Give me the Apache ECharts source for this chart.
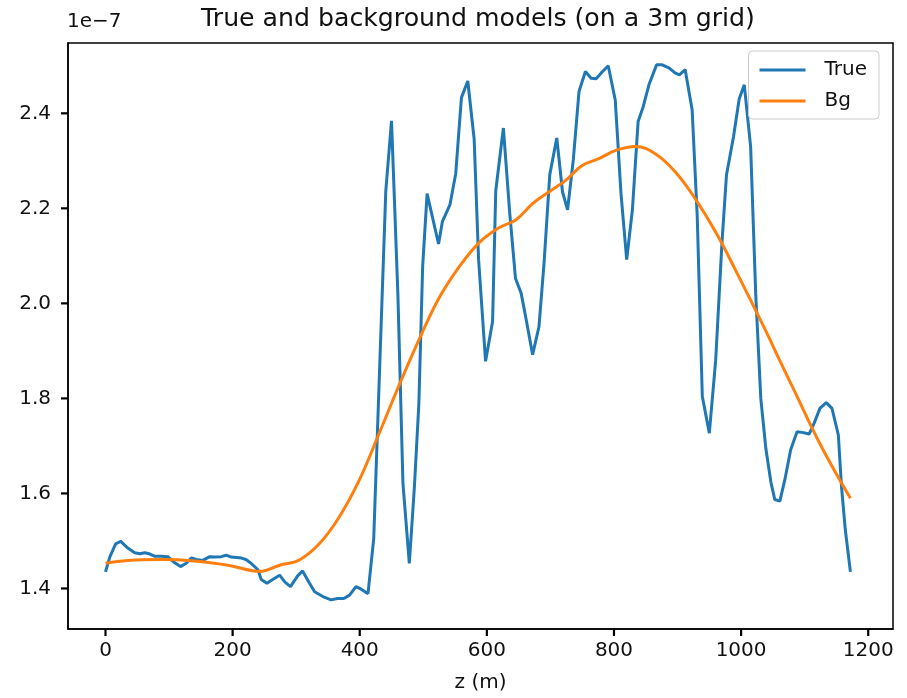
<!DOCTYPE html>
<html><head><meta charset="utf-8">
<script src="https://cdn.jsdelivr.net/npm/echarts@6/dist/echarts.min.js"></script>
<style>html,body{margin:0;padding:0;background:#fff}#c{width:907px;height:698px}</style>
</head><body><div id="c"></div>
<script>
const titleText = 'True and background models (on a 3m grid)';
const xLabel = 'z (m)';
const yScaleText = '1e\u22127';
const seriesNames = ['True', 'Bg'];
const xTicks = [0, 200, 400, 600, 800, 1000, 1200];
const yTicks = [1.4, 1.6, 1.8, 2.0, 2.2, 2.4];

// True model (values in units of 1e-7)
const zTrue = [0,7,16,24,35,46,54,62,69,77,88,98,109,118,127,135,143,153,164,172,182,190,198,214,221,229,240,245,254,263,274,282,291,302,310,321,329,342,355,365,375,384,394,403,413,422,441,450,460,468,478,486,493,499,506,524,530,542,551,560,570,580,587,598,609,614,626,636,645,654,662,672,682,690,699,710,719,727,736,745,755,764,772,782,791,802,811,820,829,838,846,855,867,876,887,896,903,912,923,931,939,950,960,970,977,988,997,1005,1015,1023,1031,1039,1047,1053,1061,1069,1078,1088,1098,1107,1115,1124,1134,1143,1153,1158,1164,1172];
const vTrue = [1.435,1.467,1.494,1.499,1.485,1.475,1.473,1.475,1.473,1.468,1.468,1.467,1.454,1.446,1.453,1.464,1.461,1.459,1.467,1.466,1.467,1.470,1.466,1.464,1.461,1.453,1.439,1.419,1.411,1.419,1.428,1.414,1.404,1.426,1.437,1.411,1.393,1.383,1.376,1.379,1.379,1.386,1.404,1.398,1.389,1.505,2.237,2.384,2.020,1.621,1.453,1.614,1.788,2.078,2.231,2.125,2.172,2.208,2.273,2.433,2.468,2.346,2.092,1.878,1.962,2.237,2.369,2.190,2.053,2.021,1.965,1.892,1.951,2.085,2.271,2.348,2.235,2.197,2.302,2.446,2.488,2.474,2.473,2.488,2.500,2.428,2.232,2.092,2.197,2.383,2.414,2.460,2.502,2.502,2.495,2.485,2.481,2.492,2.407,2.183,1.804,1.727,1.880,2.130,2.270,2.350,2.430,2.460,2.330,2.020,1.800,1.694,1.623,1.587,1.584,1.630,1.692,1.730,1.728,1.725,1.748,1.779,1.791,1.779,1.723,1.614,1.523,1.435];

// Background model (values in units of 1e-7)
const zBg = [0,35,88,140,193,243,274,305,337,368,400,431,462,494,525,557,588,619,646,672,698,724,750,777,803,834,866,897,929,960,992,1023,1044,1060,1086,1109,1125,1149,1172];
const vBg = [1.453,1.459,1.461,1.458,1.449,1.436,1.449,1.460,1.495,1.551,1.630,1.728,1.828,1.926,2.012,2.078,2.128,2.159,2.176,2.210,2.235,2.259,2.290,2.305,2.322,2.330,2.314,2.276,2.218,2.150,2.068,1.985,1.928,1.882,1.810,1.745,1.702,1.643,1.590];

const FONT = 'DejaVu Sans';
const X_MIN = -59, X_MAX = 1239, Y_MIN = 1.3147, Y_MAX = 2.548;
const chart = echarts.init(document.getElementById('c'), null, {renderer: 'canvas'});
const gridL = 68, gridR = 893, gridT = 43, gridB = 629;
const axisLineStyle = {color: '#000', width: 1.5};
const TICK_LEN = 7;

chart.setOption({
  animation: false,
  backgroundColor: '#fff',
  textStyle: {fontFamily: FONT},
  grid: {left: gridL, right: 907 - gridR, top: gridT, bottom: 698 - gridB, show: true,
         borderColor: '#000', borderWidth: 1.5, backgroundColor: 'transparent'},
  xAxis: {
    type: 'value', min: X_MIN, max: X_MAX, position: 'bottom',
    name: xLabel, nameLocation: 'middle', nameGap: 44,
    nameTextStyle: {fontFamily: FONT, fontSize: 20, color: '#111'},
    axisLine: {show: true, onZero: false, lineStyle: axisLineStyle},
    splitLine: {show: false},
    axisTick: {show: false},
    axisLabel: {show: true, fontFamily: FONT, fontSize: 20, color: '#111', margin: 12, customValues: xTicks,
                formatter: v => String(v)}
  },
  yAxis: {
    type: 'value', min: Y_MIN, max: Y_MAX, position: 'left',
    axisLine: {show: true, onZero: false, lineStyle: axisLineStyle},
    splitLine: {show: false},
    axisTick: {show: false},
    axisLabel: {show: true, fontFamily: FONT, fontSize: 20, color: '#111', margin: 17, customValues: yTicks,
                formatter: v => v.toFixed(1)}
  },
  legend: {
    orient: 'vertical', right: 28, top: 51,
    data: seriesNames.map(n => ({name: n, icon: 'rect'})),
    backgroundColor: 'rgba(255,255,255,0.8)', borderColor: '#cccccc', borderWidth: 1, borderRadius: 4,
    padding: [9, 12, 8, 11], itemGap: 11, itemWidth: 46, itemHeight: 3,
    textStyle: {fontFamily: FONT, fontSize: 20, color: '#111', padding: [0, 0, 0, 14]}
  },
  series: [
    {name: seriesNames[0], type: 'line', data: zTrue.map((z, i) => [z, vTrue[i]]),
     showSymbol: false, symbol: 'none', lineStyle: {color: '#1f77b4', width: 3}, itemStyle: {color: '#1f77b4'}, z: 2},
    {name: seriesNames[1], type: 'line', data: zBg.map((z, i) => [z, vBg[i]]), smooth: 0.4,
     showSymbol: false, symbol: 'none', lineStyle: {color: '#ff7f0e', width: 3}, itemStyle: {color: '#ff7f0e'}, z: 3}
  ]
});

// Outward tick marks, positioned through the library's own axis scales
const conv = p => chart.convertToPixel({xAxisIndex: 0, yAxisIndex: 0}, p);
const tickGraphics = [];
xTicks.forEach(v => {
  const p = conv([v, Y_MIN]);
  tickGraphics.push({type: 'line', z: 100, silent: true,
    shape: {x1: p[0], y1: p[1], x2: p[0], y2: p[1] + TICK_LEN}, style: {stroke: '#000', lineWidth: 2.2}});
});
yTicks.forEach(v => {
  const p = conv([X_MIN, v]);
  tickGraphics.push({type: 'line', z: 100, silent: true,
    shape: {x1: p[0] - TICK_LEN, y1: p[1], x2: p[0], y2: p[1]}, style: {stroke: '#000', lineWidth: 2.2}});
});
chart.setOption({
  graphic: [
    {type: 'text', x: 478, y: 19, style: {text: titleText, fontFamily: FONT, fontSize: 25.2, fill: '#111', align: 'center', verticalAlign: 'middle'}},
    {type: 'text', x: 67, y: 22, style: {text: yScaleText, fontFamily: FONT, fontSize: 20, fill: '#111', align: 'left', verticalAlign: 'middle'}}
  ].concat(tickGraphics)
});
</script></body></html>
